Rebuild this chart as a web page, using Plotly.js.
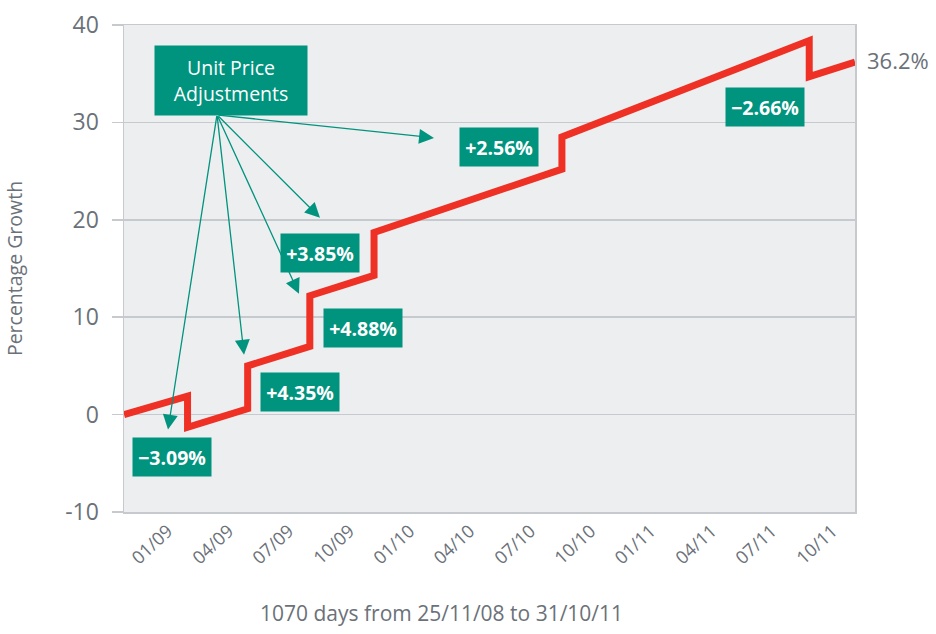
<!DOCTYPE html>
<html>
<head>
<meta charset="utf-8">
<script src="https://cdn.plot.ly/plotly-3.0.1.min.js"></script>
<style>html,body{margin:0;padding:0;background:#fff;}#chart{width:936px;height:634px;}</style>
</head>
<body>
<div id="chart"></div>
<script>
// Dates of the fund series (vertical steps repeat the date)
const dates = ['2008-11-25','2009-02-26','2009-02-26','2009-05-25','2009-05-25','2009-08-24','2009-08-24',
               '2009-11-26','2009-11-26','2010-08-28','2010-08-28','2011-08-25','2011-08-25','2011-10-31'];
// Percentage growth values
const growth = [0, 1.9, -1.3, 0.6, 5.0, 7.0, 12.2, 14.3, 18.7, 25.2, 28.5, 38.4, 34.7, 36.2];

// X tick labels and where they sit on the date axis
const tickDates = ['2009-01-28','2009-04-27','2009-07-24','2009-10-21','2010-01-17','2010-04-15',
                   '2010-07-13','2010-10-09','2011-01-05','2011-04-04','2011-07-01','2011-09-28'];
const tickLabels = ['01/09','04/09','07/09','10/09','01/10','04/10','07/10','10/10','01/11','04/11','07/11','10/11'];
// Y tick values and labels
const yTicks = [-10, 0, 10, 20, 30, 40];
const yTickLabels = ['-10','0','10','20','30','40'];

// Unit price adjustment labels
const adjLabels = ['\u22123.09%','+4.35%','+4.88%','+3.85%','+2.56%','\u22122.66%'];
const finalLabel = '36.2%';

const GREEN = '#00937e';
const GREY = '#6b7179';
const GRID = '#c6cacf';

// box centres (paper coords)
const boxPos = [[0.0657,0.1138],[0.2401,0.2472],[0.3276,0.3785],[0.2688,0.5323],[0.5130,0.7497],[0.8769,0.8318]];
// arrow heads (paper coords) and tails (pixel offsets)
const arrowHeads = [[0.0602,0.1692],[0.1642,0.3231],[0.2394,0.4482],[0.2681,0.6041],[0.4241,0.7682]];
const arrowTails = [[49,-315],[-27,-240],[-82,-179],[-103,-103],[-217,-23]];

const annotations = [];
arrowHeads.forEach((h,i)=>{
  annotations.push({xref:'paper',yref:'paper',x:h[0],y:h[1],text:'',showarrow:true,
    ax:arrowTails[i][0],ay:arrowTails[i][1],arrowhead:2,arrowsize:2.3,arrowwidth:1.3,arrowcolor:GREEN,standoff:0});
});
adjLabels.forEach((t,i)=>{
  annotations.push({xref:'paper',yref:'paper',x:boxPos[i][0],y:boxPos[i][1],text:'<b>'+t+'</b>',showarrow:false,
    bgcolor:GREEN,borderpad:4,width:70,height:30,xanchor:'center',yanchor:'middle',
    font:{family:'Open Sans, sans-serif',size:19.5,color:'#ffffff'}});
});
annotations.push({xref:'paper',yref:'paper',x:0.1464,y:0.886,text:'Unit Price<br>Adjustments',showarrow:false,
  bgcolor:GREEN,borderpad:4,width:144,height:61,xanchor:'center',yanchor:'middle',
  font:{family:'Open Sans, sans-serif',size:19.5,color:'#ffffff'}});
annotations.push({xref:'x',yref:'y',x:dates[dates.length-1],y:growth[growth.length-1],text:finalLabel,showarrow:false,
  xanchor:'left',yanchor:'middle',xshift:10,yshift:2,font:{family:'Open Sans, sans-serif',size:22,color:GREY}});
annotations.push({xref:'paper',yref:'paper',x:(441-124)/731,y:-0.207,text:'1070 days from 25/11/08 to 31/10/11',
  showarrow:false,xanchor:'center',yanchor:'middle',font:{family:'Open Sans, sans-serif',size:21,color:GREY}});

const trace = {x:dates,y:growth,type:'scatter',mode:'lines',
  line:{color:'#ee3124',width:7},hoverinfo:'skip'};

const layout = {
  width:936,height:634,
  margin:{l:124,r:81,t:25,b:122},
  paper_bgcolor:'#ffffff',plot_bgcolor:'#edeef0',
  showlegend:false,
  font:{family:'Open Sans, sans-serif',color:GREY},
  xaxis:{type:'date',range:['2008-11-25','2011-10-31'],tickmode:'array',tickvals:tickDates,ticktext:tickLabels,
    tickangle:-43,tickfont:{size:18,color:GREY},showgrid:false,zeroline:false,showline:true,linecolor:GRID,linewidth:1.5,
    mirror:true,ticks:''},
  yaxis:{range:[-10,40],tickmode:'array',tickvals:yTicks,ticktext:yTickLabels,tickfont:{size:23,color:GREY},showgrid:true,gridcolor:GRID,gridwidth:1.5,
    zeroline:false,showline:true,linecolor:GRID,linewidth:1.5,mirror:true,ticks:'outside',ticklen:11,tickcolor:GRID,tickwidth:1.5,
    ticklabelstandoff:8,
    title:{text:'Percentage Growth',font:{size:19.5,color:GREY},standoff:37}},
  annotations:annotations
};
Plotly.newPlot('chart',[trace],layout,{displayModeBar:false,staticPlot:true});
</script>
</body>
</html>
